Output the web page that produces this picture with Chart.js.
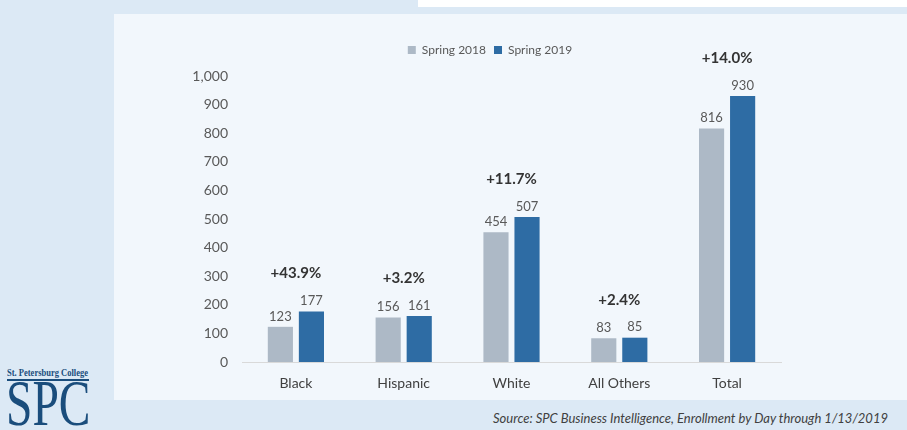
<!DOCTYPE html>
<html>
<head>
<meta charset="utf-8">
<script src="https://cdn.jsdelivr.net/npm/chart.js@4.4.1/dist/chart.umd.min.js"></script>
<style>
  html, body { margin: 0; padding: 0; }
  body { width: 907px; height: 430px; background: #dce9f5; position: relative; overflow: hidden; font-family: Lato, sans-serif; }
  #strip { position: absolute; left: 418px; top: 0; width: 489px; height: 7px; background: #ffffff; }
  #panel { position: absolute; left: 114px; top: 14px; width: 793px; height: 386px; background: #f2f7fc; }
  #chart { position: absolute; left: 115px; top: 14px; }
  #source { position: absolute; right: 19px; top: 410px; font-size: 13px; font-style: italic; color: #404040; white-space: nowrap; }
  #logo1 { position: absolute; left: 7px; top: 367px; font-family: "Liberation Serif", serif; font-weight: bold; font-size: 10px; color: #1a4d7c; white-space: nowrap; transform: scaleX(0.85); transform-origin: left top; }
  #logoline { position: absolute; left: 7px; top: 379px; width: 82px; height: 2px; background: #1a4d7c; }
  #logo2 { position: absolute; left: 6px; top: 370px; font-family: "Liberation Serif", serif; font-size: 66px; line-height: 66px; color: #1a4d7c; white-space: nowrap; transform: scaleX(0.72); transform-origin: left top; }
</style>
</head>
<body>
<div id="strip"></div>
<div id="panel"></div>
<canvas id="chart" width="750" height="386"></canvas>
<div id="logo1">St. Petersburg College</div>
<div id="logoline"></div>
<div id="logo2">SPC</div>
<div id="source">Source: SPC Business Intelligence, Enrollment by Day through 1/13/2019</div>
<script>
const categories = ['Black', 'Hispanic', 'White', 'All Others', 'Total'];
const spring2018 = [123, 156, 454, 83, 816];
const spring2019 = [177, 161, 507, 85, 930];
const changeLabels = ['+43.9%', '+3.2%', '+11.7%', '+2.4%', '+14.0%'];
const yTicks = [0, 100, 200, 300, 400, 500, 600, 700, 800, 900, 1000];

// legend a bit taller so the plot starts lower, and centred on the whole canvas
const legendSpace = {
    id: 'legendSpace',
    beforeInit(chart) {
        const fit = chart.legend.fit;
        chart.legend.fit = function () {
            fit.bind(chart.legend)();
            this.height += 10;
        };
    },
    afterLayout(chart) {
        chart.legend.left += 42;
        chart.legend.right += 42;
    }
};

// value labels on bars and change labels over each group
const barLabels = {
    id: 'barLabels',
    afterDatasetsDraw(chart) {
        const ctx = chart.ctx;
        ctx.save();
        ctx.textAlign = 'center';
        ctx.textBaseline = 'bottom';
        ctx.font = '13px Lato';
        ctx.fillStyle = '#595959';
        chart.data.datasets.forEach((ds, i) => {
            chart.getDatasetMeta(i).data.forEach((bar, j) => {
                ctx.fillText(ds.data[j], bar.x, bar.y - 4);
            });
        });
        ctx.font = 'bold 15px Lato';
        ctx.fillStyle = '#333333';
        ctx.textBaseline = 'middle';
        const x = chart.scales.x;
        const y = chart.scales.y;
        categories.forEach((c, j) => {
            const top = y.getPixelForValue(Math.max(spring2018[j], spring2019[j]));
            ctx.fillText(changeLabels[j], x.getPixelForValue(j), top - 38);
        });
        ctx.restore();
    }
};

new Chart(document.getElementById('chart'), {
    type: 'bar',
    data: {
        labels: categories,
        datasets: [{
            label: 'Spring 2018',
            data: spring2018,
            backgroundColor: '#adb9c6'
        }, {
            label: 'Spring 2019',
            data: spring2019,
            backgroundColor: '#2e6ca4'
        }]
    },
    options: {
        responsive: false,
        animation: false,
        categoryPercentage: 0.576,
        barPercentage: 0.81,
        layout: { padding: { left: 0, right: 84, top: 22, bottom: 8 } },
        plugins: {
            tooltip: { enabled: false },
            legend: {
                position: 'top',
                labels: {
                    boxWidth: 8,
                    boxHeight: 8,
                    padding: 8,
                    color: '#595959',
                    font: { family: 'Lato', size: 12 }
                }
            }
        },
        scales: {
            x: {
                afterFit(scale) { scale.height = 30; },
                grid: { display: false, drawTicks: false },
                border: { color: '#d9d9d9' },
                ticks: { color: '#404040', padding: 13, font: { family: 'Lato', size: 14 } }
            },
            y: {
                min: 0,
                max: 1000,
                afterFit(scale) { scale.width = 127; },
                afterBuildTicks(scale) { scale.ticks = yTicks.map(v => ({ value: v })); },
                grid: { display: false, drawTicks: false },
                border: { display: false },
                ticks: { color: '#595959', padding: 14, font: { family: 'Lato', size: 14 } }
            }
        }
    },
    plugins: [legendSpace, barLabels]
});
</script>
</body>
</html>
